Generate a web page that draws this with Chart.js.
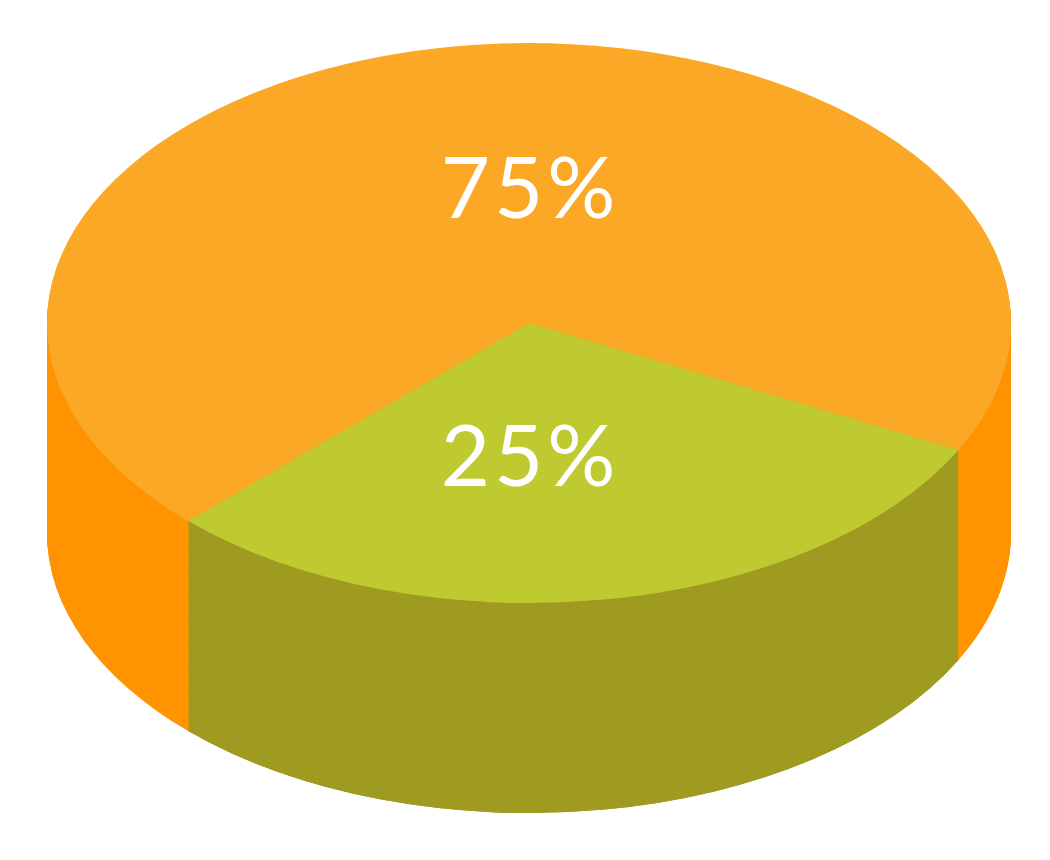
<!DOCTYPE html>
<html>
<head>
<meta charset="utf-8">
<title>Pie</title>
<script src="https://cdn.jsdelivr.net/npm/chart.js@4/dist/chart.umd.min.js"></script>
<style>
  html, body { margin: 0; padding: 0; background: #fff; }
  canvas { display: block; }
</style>
</head>
<body>
<canvas id="pie3d" width="1050" height="860"></canvas>
<script>
// the printed labels say 75/25 but the wedge in the picture measures about 108 deg,
// so the slices use the measured shares and the labels stay as printed
var categories = ["Orange", "Green"];
var sliceShares = [70, 30];
var printedLabels = ["75%", "25%"];
var topColors = ["#FAA825", "#BFCA31"];
var wallColors = ["#FF9400", "#9E9B20"];

var centerX = 529, centerY = 323, radiusX = 482, radiusY = 280, depth = 210;
var labelY = [191, 459];

function squash(chart, ctx, dy) {
    var arc = chart.getDatasetMeta(0).data[0];
    var r = arc.outerRadius;
    ctx.translate(centerX, centerY + dy);
    ctx.scale(radiusX / r, radiusY / r);
    ctx.translate(-arc.x, -arc.y);
}

function drawWall(chart, ctx, arc, color, dy) {
    var saved = arc.options;
    var wall = Object.create(saved);
    wall.backgroundColor = color;
    ctx.save();
    squash(chart, ctx, dy);
    arc.options = wall;
    arc.draw(ctx);
    arc.options = saved;
    ctx.restore();
}

var cylinder = {
    id: 'cylinder',
    beforeDatasetsDraw: function(chart) {
        var ctx = chart.ctx;
        var arcs = chart.getDatasetMeta(0).data;
        var d;
        // side wall: same slices stacked downward, bottom layer first
        for (d = depth; d > 0; d--) {
            arcs.forEach(function(arc, i) {
                drawWall(chart, ctx, arc, wallColors[i], d);
            });
        }
        // second coarse pass on the front slice, hides faint edge banding
        for (d = depth; d > 0; d -= 6) {
            drawWall(chart, ctx, arcs[1], wallColors[1], d);
        }
        ctx.save();
        squash(chart, ctx, 0);
    },
    afterDatasetsDraw: function(chart) {
        var ctx = chart.ctx;
        ctx.restore();
        ctx.save();
        ctx.fillStyle = "#fff";
        ctx.font = "400 85px Lato";
        ctx.letterSpacing = "4px";
        ctx.textAlign = "center";
        ctx.textBaseline = "middle";
        printedLabels.forEach(function(t, i) {
            ctx.fillText(t, centerX + 1, labelY[i]);
        });
        ctx.restore();
    }
};

new Chart(document.getElementById("pie3d"), {
    type: 'pie',
    data: {
        labels: categories,
        datasets: [{
            data: sliceShares,
            backgroundColor: topColors,
            borderWidth: 0
        }]
    },
    options: {
        responsive: false,
        animation: false,
        rotation: 225,
        events: [],
        plugins: {
            legend: { display: false },
            title: { display: false },
            tooltip: { enabled: false }
        }
    },
    plugins: [cylinder]
});
</script>
</body>
</html>
